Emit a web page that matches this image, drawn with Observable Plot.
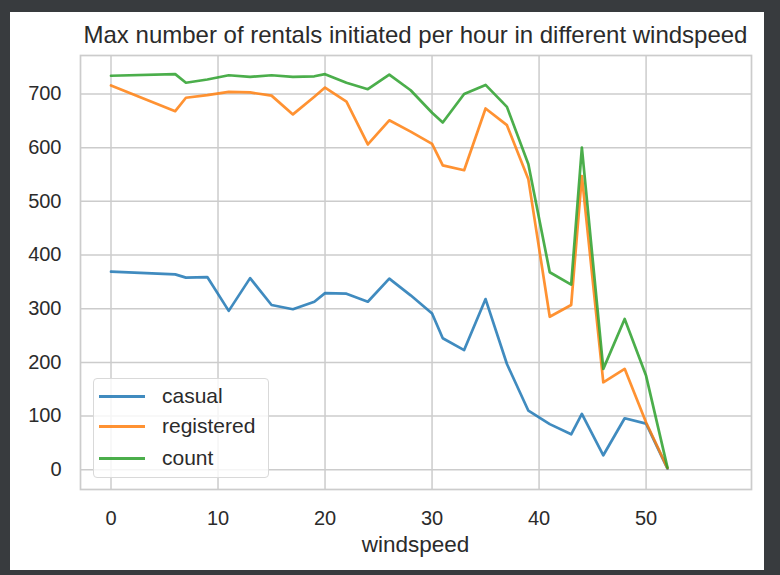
<!DOCTYPE html>
<html><head><meta charset="utf-8">
<script src="https://cdn.jsdelivr.net/npm/d3@7"></script>
<script src="https://cdn.jsdelivr.net/npm/@observablehq/plot@0.6"></script>
<style>
html,body{margin:0;padding:0;background:#383b3e;width:780px;height:575px;overflow:hidden;position:relative;font-family:"Liberation Sans",Arial,sans-serif;}
#panel{position:absolute;left:10px;top:12px;width:754px;height:558px;background:#fff;}
#chart{position:absolute;left:0;top:0;}
#title{position:absolute;left:60px;width:711px;top:21px;text-align:center;font-size:24px;color:#2b2b2b;white-space:nowrap;line-height:28px;}
#xlabel{position:absolute;left:80px;width:671px;top:531px;text-align:center;font-size:22.5px;color:#2b2b2b;line-height:28px;}
#legend{position:absolute;left:93px;top:378px;width:176px;height:100px;border:1px solid #d9d9d9;border-radius:4px;background:rgba(255,255,255,0.8);box-sizing:border-box;}
.item{position:absolute;left:0;height:26px;}
.sw{position:absolute;left:5px;top:12px;width:46px;height:0;border-top:3px solid;}
.lb{position:absolute;left:68px;top:0;font-size:21px;color:#2b2b2b;line-height:26px;white-space:nowrap;}
</style></head>
<body>
<div id="panel"></div>
<div id="chart"></div>
<div id="title"></div>
<div id="xlabel"></div>
<div id="legend"></div>
<script>
const titleText = "Max number of rentals initiated per hour in different windspeed";
const xLabel = "windspeed";
const windspeed = [0,6.0032,7.0015,8.9981,11.0014,12.998,15.0013,16.9979,19.0012,19.9995,22.0028,23.9994,26.0027,27.9993,30.0026,31.0009,32.9975,35.0008,36.9974,39.0007,40.9973,43.0006,43.9989,46.0022,47.9988,50.0021,51.9987];
const casual     = [369,364,358,359,296,357,307,299,313,329,328,313,356,325,291,245,223,318,197,110,85,66,104,27,96,86,2];
const registered = [716,668,693,698,704,703,697,662,695,712,686,606,651,630,607,567,558,673,642,541,285,307,547,163,188,88,3];
const count      = [734,737,721,727,735,732,735,732,733,737,721,709,736,707,665,647,700,717,676,569,368,345,600,188,281,175,4];
const seriesNames = ["casual","registered","count"];
const seriesColors = ["#1f77b4","#ff7f0e","#2ca02c"];
const xTicks = [0,10,20,30,40,50];
const yTicks = [0,100,200,300,400,500,600,700];

const seriesValues = [casual, registered, count];
const rows = [];
seriesNames.forEach((s, i) => {
  windspeed.forEach((w, j) => rows.push({windspeed: w, value: seriesValues[i][j], series: s}));
});

const chart = Plot.plot({
  width: 780, height: 575,
  marginLeft: 80, marginRight: 29, marginTop: 55, marginBottom: 86,
  style: {background: "transparent", fontFamily: "'Liberation Sans', Arial, sans-serif", fontSize: "20px", color: "#2b2b2b"},
  x: {domain: [-2.85, 59.85]},
  y: {domain: [-36.75, 771.75]},
  color: {domain: seriesNames, range: seriesColors},
  marks: [
    Plot.gridX(xTicks, {stroke: "#cccccc", strokeOpacity: 1, strokeWidth: 1.5}),
    Plot.gridY(yTicks, {stroke: "#cccccc", strokeOpacity: 1, strokeWidth: 1.5}),
    Plot.frame({stroke: "#cccccc", strokeWidth: 1.7}),
    Plot.axisX(xTicks, {tickSize: 0, tickPadding: 21, label: null, fontSize: 20, fill: "#2b2b2b"}),
    Plot.axisY(yTicks, {tickSize: 0, tickPadding: 19, label: null, fontSize: 20, fill: "#2b2b2b"}),
    Plot.line(rows, {x: "windspeed", y: "value", z: "series", stroke: "series", strokeWidth: 2.7, strokeOpacity: 0.85})
  ]
});
document.getElementById("chart").appendChild(chart);
document.getElementById("title").textContent = titleText;
document.getElementById("xlabel").textContent = xLabel;

const legend = d3.select("#legend");
const rowTops = [4, 34, 66];
seriesNames.forEach((s, i) => {
  const it = legend.append("div").attr("class", "item").style("top", rowTops[i] + "px");
  it.append("div").attr("class", "sw").style("border-color", seriesColors[i]).style("opacity", 0.85);
  it.append("div").attr("class", "lb").text(s);
});
</script>
</body></html>
